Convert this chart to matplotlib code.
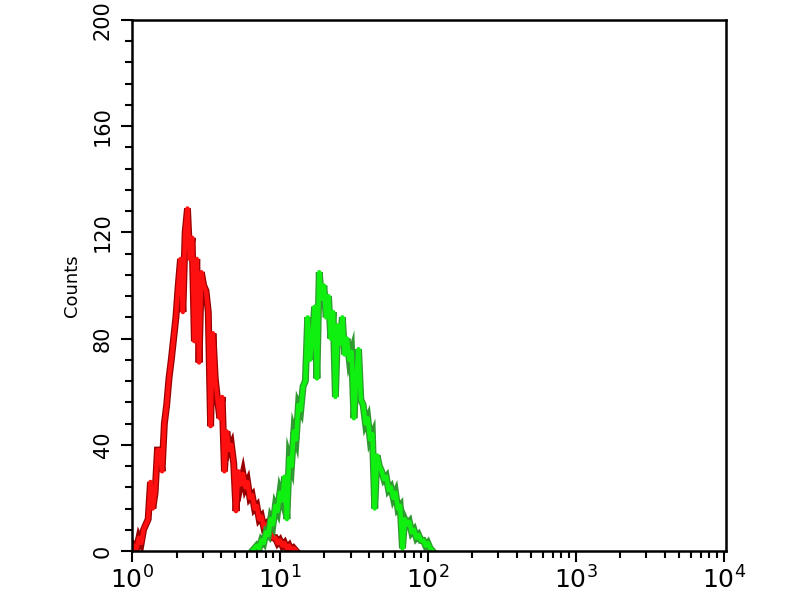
import matplotlib
matplotlib.use('Agg')
import matplotlib.pyplot as plt
from matplotlib.ticker import FixedLocator, MultipleLocator
import numpy as np

# log channels, 256 channels per decade
red_channels = np.arange(0, 288, 4)
red_counts = [0, 2, 1, 5, 3, 8, 10, 12, 26, 16, 22, 38,
              38, 30, 48, 55, 65, 72, 80, 88, 100, 110, 90, 120,
              129, 110, 118, 79, 110, 71, 105, 100, 98, 90, 47, 82,
              65, 57, 50, 58, 30, 45, 38, 40, 33, 15, 30, 25,
              29, 24, 26, 20, 21, 16, 17, 12, 13, 9, 10, 7,
              7, 5, 5, 3, 4, 2, 3, 1, 2, 0, 1, 0]

green_channels = np.arange(208, 524, 4)
green_counts = [0, 1, 2, 1, 4, 3, 7, 6, 12, 10, 17, 15,
                22, 19, 28, 12, 35, 32, 45, 42, 55, 53, 62, 64,
                88, 72, 80, 92, 65, 105, 95, 100, 88, 96, 80, 90,
                58, 85, 78, 88, 74, 80, 72, 75, 50, 65, 76, 57,
                55, 48, 50, 42, 44, 16, 36, 32, 30, 27, 28, 23,
                24, 20, 22, 16, 17, 1, 12, 10, 11, 7, 8, 5,
                6, 4, 4, 2, 3, 1, 0]

decades = [0, 1, 2, 3, 4]
y_major = [0, 40, 80, 120, 160, 200]


def main():
    plt.rcParams['mathtext.fontset'] = 'dejavusans'
    fig = plt.figure(figsize=(8, 6), dpi=100)
    ax = fig.add_axes([0.165, 0.0817, 0.7425, 0.885])

    rx = 10 ** (red_channels / 256.0)
    gx = 10 ** (green_channels / 256.0)

    ax.plot(rx, red_counts, color='#9a0000', lw=5.0, solid_joinstyle='miter')
    ax.plot(rx, red_counts, color='#ff1010', lw=3.2)
    ax.plot(gx, green_counts, color='#2f9a2f', lw=5.0, solid_joinstyle='miter')
    ax.plot(gx, green_counts, color='#10f010', lw=3.2)

    ax.set_xscale('log')
    ax.set_xlim(1, 10 ** 4.015)
    ax.set_ylim(0, 200)

    ax.xaxis.set_major_locator(FixedLocator([10.0 ** d for d in decades]))
    minors = [m * 10.0 ** d for d in decades[:-1] for m in range(2, 10)]
    ax.xaxis.set_minor_locator(FixedLocator(minors))
    ax.set_xticklabels(['$10^{%d}$' % d for d in decades])
    ax.xaxis.set_minor_formatter(plt.NullFormatter())

    ax.yaxis.set_major_locator(FixedLocator(y_major))
    ax.yaxis.set_minor_locator(MultipleLocator(8))
    ax.set_yticklabels([str(v) for v in y_major], rotation=90, va='center')

    ax.tick_params(axis='both', which='major', direction='out', length=8, width=1.5,
                   top=False, right=False)
    ax.tick_params(axis='both', which='minor', direction='out', length=5, width=1.5,
                   top=False, right=False)
    ax.tick_params(axis='x', which='major', labelsize=18, pad=3)
    ax.tick_params(axis='y', which='major', labelsize=15, pad=6)

    for s in ax.spines.values():
        s.set_linewidth(1.8)

    ax.set_ylabel('Counts', fontsize=13, labelpad=8)

    fig.savefig('out.png', dpi=100, facecolor='white')


if __name__ == '__main__':
    main()
